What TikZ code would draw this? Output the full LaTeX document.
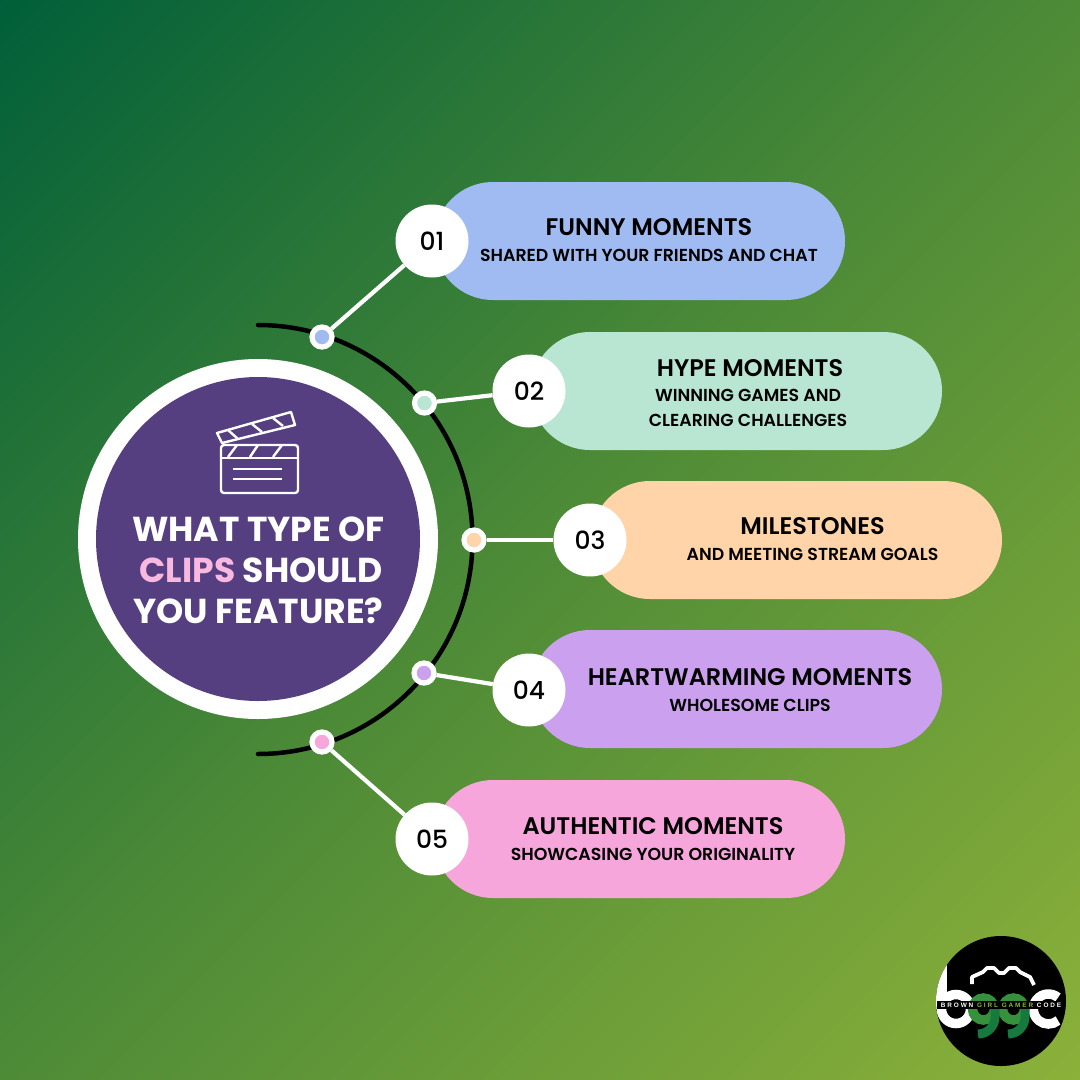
\documentclass[tikz,border=0pt]{standalone}
\usepackage{fontspec}
\setmainfont{Poppins}[BoldFont=Poppins SemiBold]
\newfontfamily\popb{Poppins Bold}
\newfontfamily\popm{Poppins Medium}
\newfontfamily\popsb{Poppins SemiBold}
\newfontfamily\logofont{Liberation Sans Bold}
\definecolor{bgA}{HTML}{005F39}
\definecolor{bgB}{HTML}{4E8B37}
\definecolor{bgC}{HTML}{8CB13A}
\definecolor{purp}{HTML}{553F80}
\definecolor{pA}{HTML}{A0BBF2}
\definecolor{pB}{HTML}{B8E6D2}
\definecolor{pC}{HTML}{FFD4A8}
\definecolor{pD}{HTML}{CBA0EE}
\definecolor{pE}{HTML}{F7A6DC}
\definecolor{clipc}{HTML}{F9B8DF}
\definecolor{lime}{HTML}{8DB63C}
\definecolor{gA}{HTML}{167A3E}
\definecolor{gB}{HTML}{35913B}
\pgfdeclareverticalshading{bgdiag}{100bp}{color(0bp)=(bgC); color(14.3bp)=(bgC); color(50bp)=(bgB); color(85.7bp)=(bgA); color(100bp)=(bgA)}
\tikzset{
 pill/.style={rounded corners=59pt,minimum width=411pt,minimum height=118pt,inner sep=0pt},
 numc/.style={circle,fill=white,minimum size=73pt,inner sep=0pt,font=\popm\fontsize{25}{25}\selectfont},
 dot/.style={circle,draw=white,line width=5.2pt,minimum size=20pt,inner sep=0pt},
 conn/.style={draw=white,line width=4.2pt},
 ttl/.style={font=\popsb\fontsize{24}{24}\selectfont,text=black,inner sep=0pt},
 sub/.style={font=\popsb\fontsize{17.35}{25}\selectfont,text=black,inner sep=0pt,align=center},
 head/.style={font=\popb\fontsize{34.6}{34.6}\selectfont,inner sep=0pt,text=white},
 icon/.style={draw=white,line width=2.4pt,line join=round},
}
\begin{document}
\begin{tikzpicture}[x=1pt,y=-1pt]
\useasboundingbox (0,0) rectangle (1080,1080);
\shade[shading=bgdiag,shading angle=45] (0,0) rectangle (1080,1080);
% arc
\draw[black,line width=4.5pt,line cap=round] (258,325) arc[start angle=-90,end angle=90,radius=214.5pt,y radius=-214.5pt];
% central disc
\node[circle,fill=white,minimum size=360pt,inner sep=0pt] (hub) at (258,539) {};
\node[circle,fill=purp,minimum size=324pt,inner sep=0pt] (hubin) at (258,539) {};
% pills
\node[pill,fill=pA] (p1) at (639.5,241) {};
\node[pill,fill=pB] (p2) at (736.5,391) {};
\node[pill,fill=pC] (p3) at (796.5,540) {};
\node[pill,fill=pD] (p4) at (736.5,689) {};
\node[pill,fill=pE] (p5) at (639.5,839) {};
% dots
\node[dot,fill=pA] (d1) at (322,337) {};
\node[dot,fill=pB] (d2) at (424.5,403) {};
\node[dot,fill=pC] (d3) at (474,540) {};
\node[dot,fill=pD] (d4) at (424,673) {};
\node[dot,fill=pE] (d5) at (322,742) {};
% numbers
\node[numc] (n1) at (432,241) {01};
\node[numc] (n2) at (529,391) {02};
\node[numc] (n3) at (590,540) {03};
\node[numc] (n4) at (529,690) {04};
\node[numc] (n5) at (432,839) {05};
% connectors
\draw[conn] (d1) -- (n1);
\draw[conn] (d2) -- (n2);
\draw[conn] (d3) -- (n3);
\draw[conn] (d4) -- (n4);
\draw[conn] (d5) -- (n5);
% pill text
\node[ttl] (t1) at (649,227) {FUNNY MOMENTS};
\node[sub] (s1) at (649,255.5) {SHARED WITH YOUR FRIENDS AND CHAT};
\node[ttl] (t2) at (750,368) {HYPE MOMENTS};
\node[sub] (s2) at (748,408) {WINNING GAMES AND\\CLEARING CHALLENGES};
\node[ttl] (t3) at (812.5,526) {MILESTONES};
\node[sub] (s3) at (812.5,554.5) {AND MEETING STREAM GOALS};
\node[ttl] (t4) at (750,677) {HEARTWARMING MOMENTS};
\node[sub] (s4) at (750,705.5) {WHOLESOME CLIPS};
\node[ttl] (t5) at (653,826) {AUTHENTIC MOMENTS};
\node[sub] (s5) at (653,854.5) {SHOWCASING YOUR ORIGINALITY};
% heading
\node[head] (h1) at (258.5,529) {WHAT TYPE OF};
\node[head] (h2) at (261,570) {\textcolor{clipc}{CLIPS} SHOULD};
\node[head] (h3) at (258.5,611) {YOU FEATURE?};
% clapperboard icon
\draw[icon,rounded corners=3pt] (221,445) -- (298,445) -- (298,493) -- (221,493) -- cycle;
\draw[icon] (221,458) -- (298,458);
\draw[icon] (228,457) -- (237,445) (250,457) -- (258,445) (273,457) -- (282,445);
\draw[icon] (233,469) -- (282,469) (233,479) -- (282,479);
\draw[icon] (217,433) -- (291,412) -- (295,425) -- (222,443) -- cycle;
\draw[icon] (228,430) -- (238,439) (252,424) -- (262,432) (273,418) -- (283,426);
% logo
\node[circle,fill=black,minimum size=130pt,inner sep=0pt] (logo) at (1001,1001) {};
\begin{scope}
\clip (1001,1001) circle[radius=65pt];
\draw[white,line width=9.5pt] (956,1009) circle[radius=14.5pt];
\fill[white] (936,960) rectangle (947,1009);
\draw[white,line width=9.5pt] (1058,997.5) arc[start angle=50,end angle=310,radius=15pt];
\end{scope}
\draw[white,line width=3.8pt,line join=round] (972,984) -- (972,977) -- (983,972) -- (987,968) -- (994,968) -- (999,973) -- (1004,973) -- (1009,968) -- (1016,968) -- (1020,972) -- (1030,977) -- (1034,985);
\draw[gB,line width=9.5pt] (983.5,1009) circle[radius=11pt];
\draw[gB,line width=9.5pt] (1013.5,1009) circle[radius=11pt];
\draw[gA,line width=9pt] (995,1009) -- (995,1017) arc[start angle=0,end angle=-90,radius=17pt];
\draw[gA,line width=9pt] (1025,1009) -- (1025,1017) arc[start angle=0,end angle=-90,radius=17pt];
\fill[black] (937,1001) rectangle (1065,1009);
\node[font=\logofont\fontsize{6.4}{6.4}\selectfont,inner sep=0pt,text=white] (logot) at (1001,1005) {\addfontfeature{LetterSpace=30}BROWN \textcolor{lime}{GIRL GAMER} CODE};
\end{tikzpicture}
\end{document}
